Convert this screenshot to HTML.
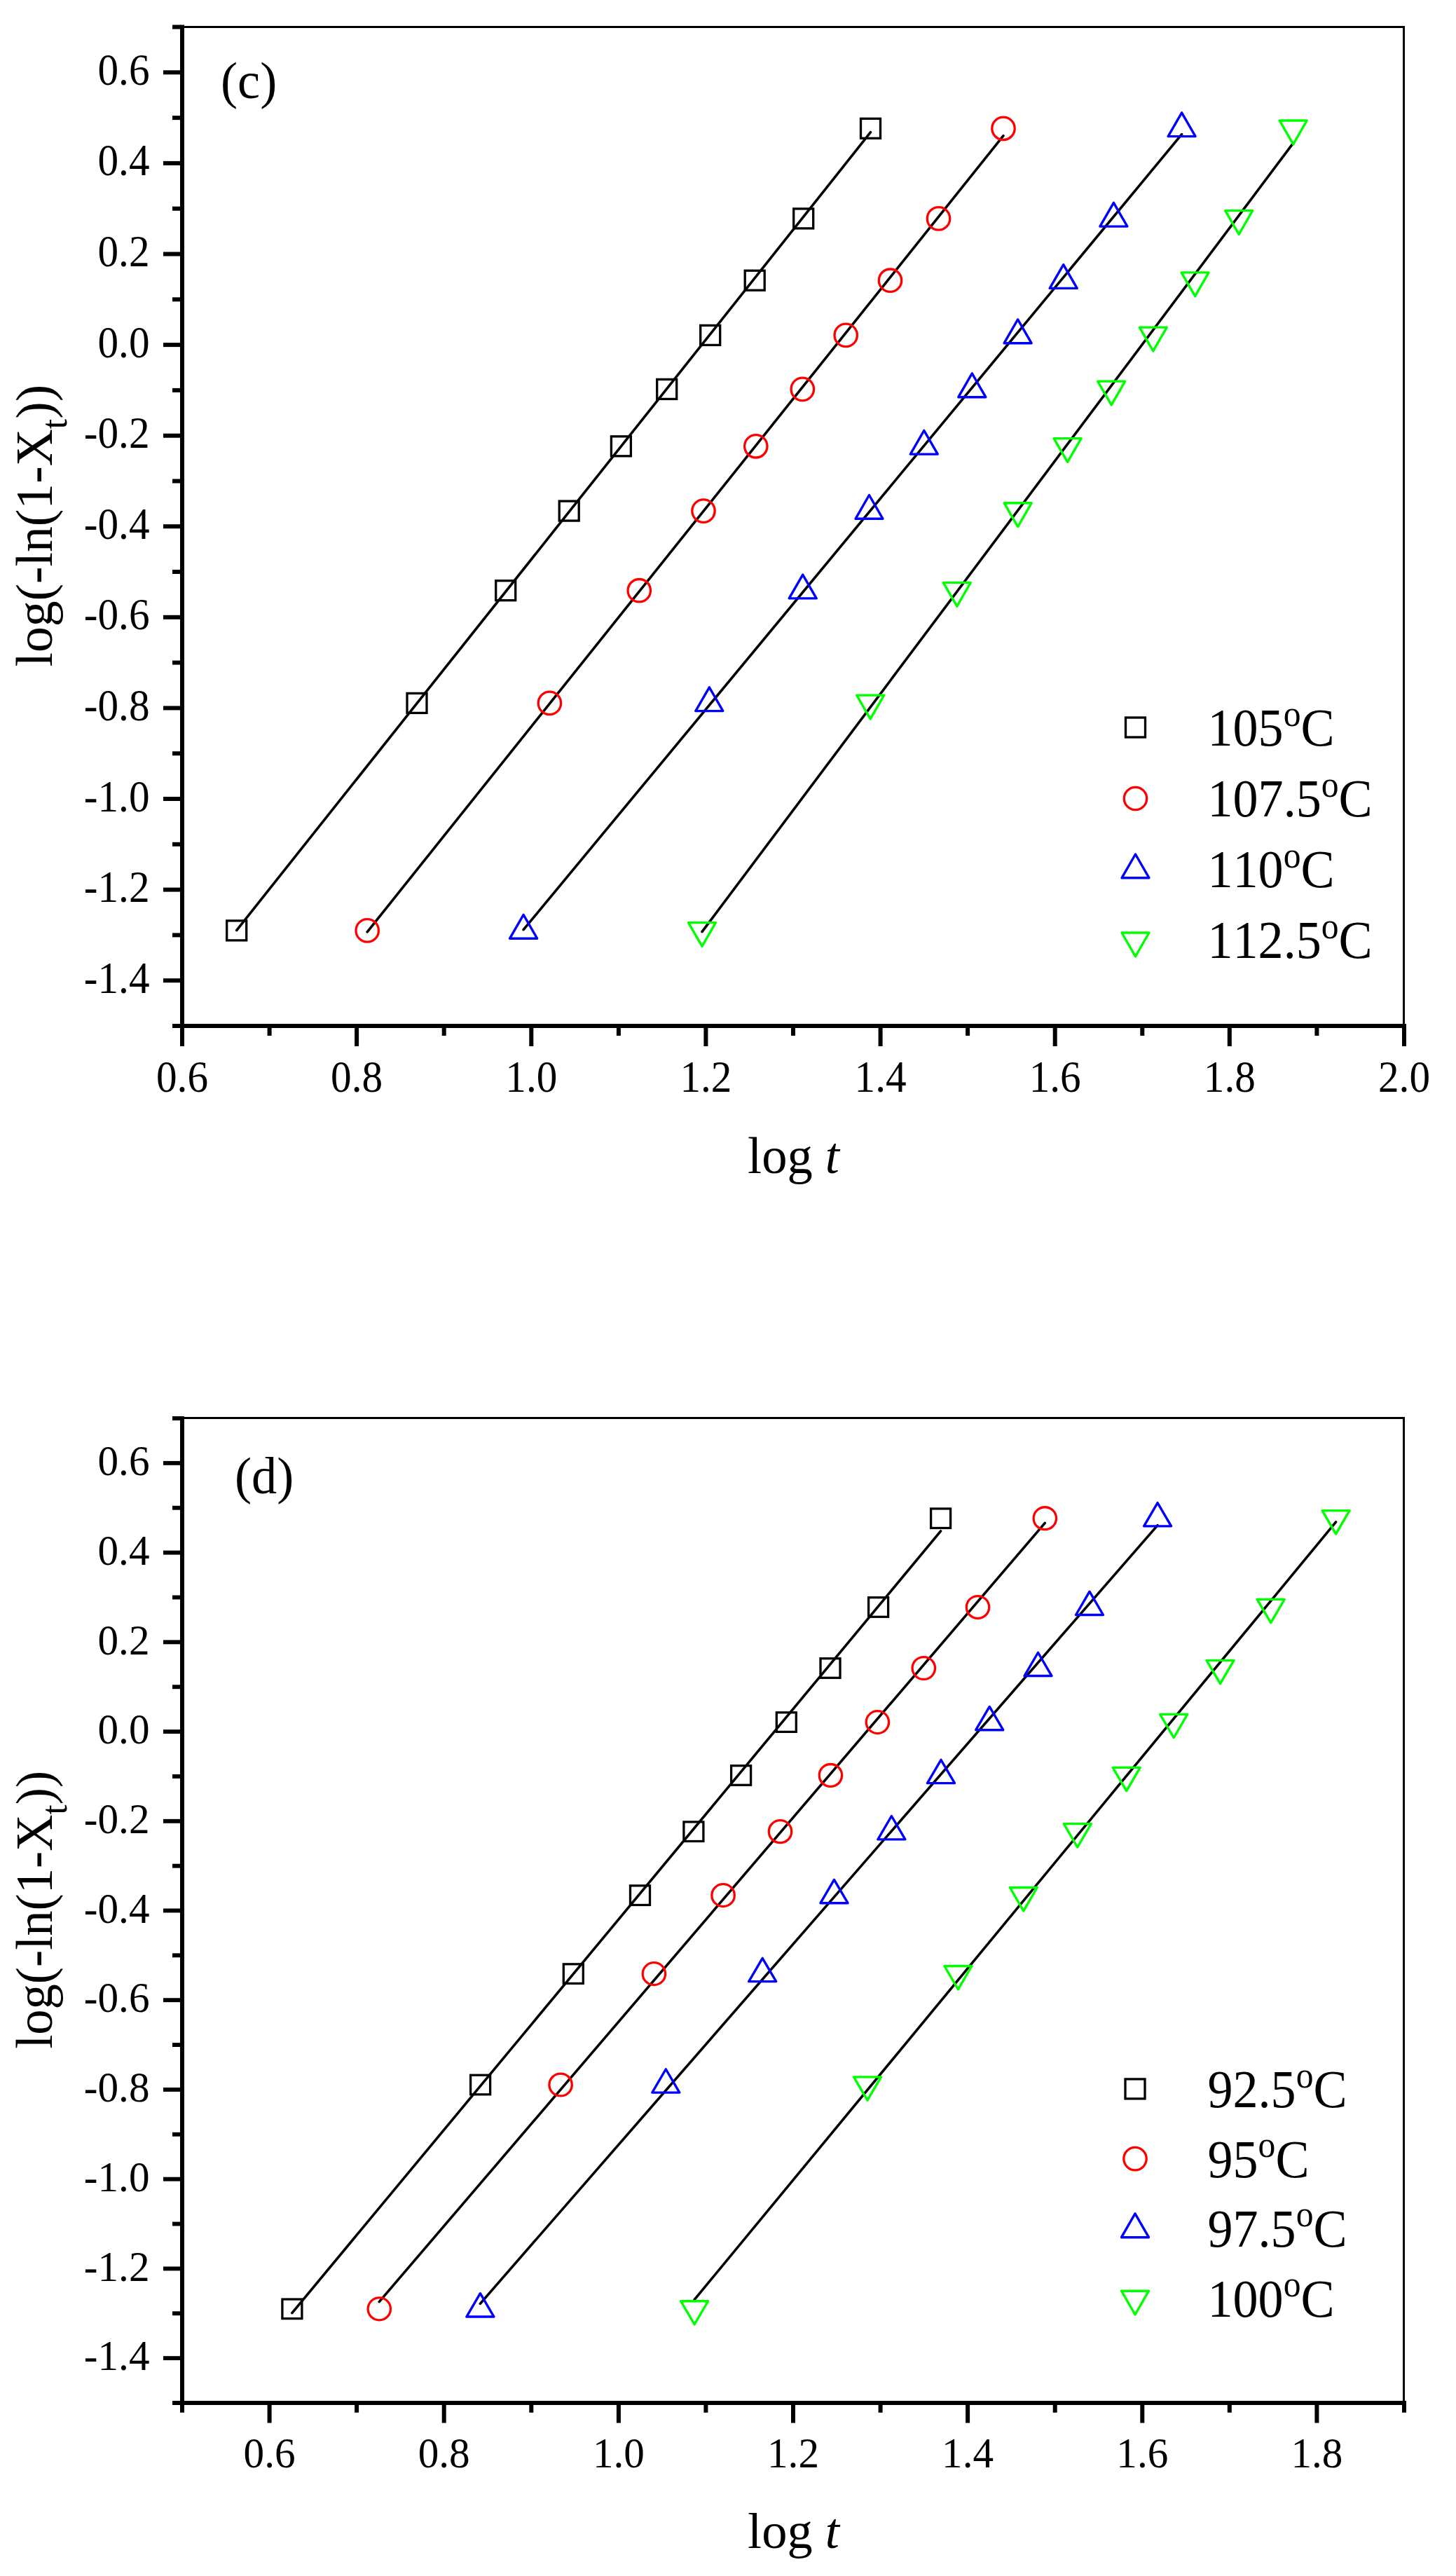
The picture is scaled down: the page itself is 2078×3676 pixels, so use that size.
<!DOCTYPE html>
<html><head><meta charset="utf-8"><title>Avrami plots</title>
<style>
html,body{margin:0;padding:0;background:#fff}
svg{display:block}
text{font-family:"Liberation Serif",serif;fill:#000;font-kerning:none;font-variant-ligatures:none;white-space:pre}
</style></head>
<body>
<svg width="2078" height="3676" viewBox="0 0 2078 3676">
<rect width="2078" height="3676" fill="#fff"/>
<g id="panel-c">
<line x1="337.7" y1="1327.6" x2="1242.5" y2="188.7" stroke="#000" stroke-width="3.6" stroke-linecap="round"/>
<line x1="524.2" y1="1329.8" x2="1432.0" y2="193.6" stroke="#000" stroke-width="3.6" stroke-linecap="round"/>
<line x1="747.1" y1="1326.7" x2="1686.6" y2="191.7" stroke="#000" stroke-width="3.6" stroke-linecap="round"/>
<line x1="1002.0" y1="1329.6" x2="1845.7" y2="204.1" stroke="#000" stroke-width="3.6" stroke-linecap="round"/>
<rect x="323.7" y="1313.9" width="28" height="28" fill="none" stroke="#000" stroke-width="3.3"/>
<rect x="581.0" y="989.4" width="28" height="28" fill="none" stroke="#000" stroke-width="3.3"/>
<rect x="707.7" y="828.7" width="28" height="28" fill="none" stroke="#000" stroke-width="3.3"/>
<rect x="798.2" y="715.1" width="28" height="28" fill="none" stroke="#000" stroke-width="3.3"/>
<rect x="872.4" y="622.8" width="28" height="28" fill="none" stroke="#000" stroke-width="3.3"/>
<rect x="937.7" y="541.4" width="28" height="28" fill="none" stroke="#000" stroke-width="3.3"/>
<rect x="999.7" y="464.4" width="28" height="28" fill="none" stroke="#000" stroke-width="3.3"/>
<rect x="1063.2" y="386.2" width="28" height="28" fill="none" stroke="#000" stroke-width="3.3"/>
<rect x="1132.7" y="297.9" width="28" height="28" fill="none" stroke="#000" stroke-width="3.3"/>
<rect x="1228.5" y="169.3" width="28" height="28" fill="none" stroke="#000" stroke-width="3.3"/>
<circle cx="524.2" cy="1327.9" r="16.2" fill="none" stroke="#f00" stroke-width="3.3"/>
<circle cx="784.4" cy="1003.4" r="16.2" fill="none" stroke="#f00" stroke-width="3.3"/>
<circle cx="912.3" cy="842.7" r="16.2" fill="none" stroke="#f00" stroke-width="3.3"/>
<circle cx="1004.0" cy="729.1" r="16.2" fill="none" stroke="#f00" stroke-width="3.3"/>
<circle cx="1078.8" cy="636.8" r="16.2" fill="none" stroke="#f00" stroke-width="3.3"/>
<circle cx="1145.3" cy="555.4" r="16.2" fill="none" stroke="#f00" stroke-width="3.3"/>
<circle cx="1207.2" cy="478.4" r="16.2" fill="none" stroke="#f00" stroke-width="3.3"/>
<circle cx="1270.5" cy="400.2" r="16.2" fill="none" stroke="#f00" stroke-width="3.3"/>
<circle cx="1339.5" cy="311.9" r="16.2" fill="none" stroke="#f00" stroke-width="3.3"/>
<circle cx="1432.0" cy="183.3" r="16.2" fill="none" stroke="#f00" stroke-width="3.3"/>
<path d="M727.6 1339.2L766.6 1339.2L747.1 1305.4Z" fill="none" stroke="#00f" stroke-width="3.4" stroke-linejoin="round"/>
<path d="M992.8 1014.6L1031.8 1014.6L1012.3 980.8Z" fill="none" stroke="#00f" stroke-width="3.4" stroke-linejoin="round"/>
<path d="M1126.2 853.9L1165.2 853.9L1145.7 820.1Z" fill="none" stroke="#00f" stroke-width="3.4" stroke-linejoin="round"/>
<path d="M1221.0 740.3L1260.0 740.3L1240.5 706.5Z" fill="none" stroke="#00f" stroke-width="3.4" stroke-linejoin="round"/>
<path d="M1299.3 648.1L1338.3 648.1L1318.8 614.3Z" fill="none" stroke="#00f" stroke-width="3.4" stroke-linejoin="round"/>
<path d="M1367.8 566.7L1406.8 566.7L1387.3 532.9Z" fill="none" stroke="#00f" stroke-width="3.4" stroke-linejoin="round"/>
<path d="M1433.1 489.7L1472.1 489.7L1452.6 455.9Z" fill="none" stroke="#00f" stroke-width="3.4" stroke-linejoin="round"/>
<path d="M1498.2 411.4L1537.2 411.4L1517.7 377.6Z" fill="none" stroke="#00f" stroke-width="3.4" stroke-linejoin="round"/>
<path d="M1569.9 323.1L1608.9 323.1L1589.4 289.3Z" fill="none" stroke="#00f" stroke-width="3.4" stroke-linejoin="round"/>
<path d="M1667.1 194.6L1706.1 194.6L1686.6 160.8Z" fill="none" stroke="#00f" stroke-width="3.4" stroke-linejoin="round"/>
<path d="M982.5 1316.6L1021.5 1316.6L1002.0 1350.4Z" fill="none" stroke="#0f0" stroke-width="3.4" stroke-linejoin="round"/>
<path d="M1222.7 992.1L1261.7 992.1L1242.2 1025.9Z" fill="none" stroke="#0f0" stroke-width="3.4" stroke-linejoin="round"/>
<path d="M1346.3 831.4L1385.3 831.4L1365.8 865.2Z" fill="none" stroke="#0f0" stroke-width="3.4" stroke-linejoin="round"/>
<path d="M1433.2 717.8L1472.2 717.8L1452.7 751.6Z" fill="none" stroke="#0f0" stroke-width="3.4" stroke-linejoin="round"/>
<path d="M1504.1 625.6L1543.1 625.6L1523.6 659.4Z" fill="none" stroke="#0f0" stroke-width="3.4" stroke-linejoin="round"/>
<path d="M1566.7 544.1L1605.7 544.1L1586.2 577.9Z" fill="none" stroke="#0f0" stroke-width="3.4" stroke-linejoin="round"/>
<path d="M1626.3 467.1L1665.3 467.1L1645.8 500.9Z" fill="none" stroke="#0f0" stroke-width="3.4" stroke-linejoin="round"/>
<path d="M1686.1 388.9L1725.1 388.9L1705.6 422.7Z" fill="none" stroke="#0f0" stroke-width="3.4" stroke-linejoin="round"/>
<path d="M1748.7 300.6L1787.7 300.6L1768.2 334.4Z" fill="none" stroke="#0f0" stroke-width="3.4" stroke-linejoin="round"/>
<path d="M1826.2 172.0L1865.2 172.0L1845.7 205.8Z" fill="none" stroke="#0f0" stroke-width="3.4" stroke-linejoin="round"/>
<rect x="257" y="37.00" width="1748" height="3.000" fill="#000"/>
<rect x="2002" y="37" width="3" height="1430" fill="#000"/>
<rect x="257" y="35.5" width="6" height="1431.5" fill="#000"/>
<rect x="246" y="1461" width="1761" height="6" fill="#000"/>
<rect x="246" y="35.5" width="12" height="6" fill="#000"/>
<rect x="233" y="100.3" width="25" height="6" fill="#000"/>
<text transform="translate(213.5 120.8) scale(0.94 1)" font-size="63" text-anchor="end">0.6</text>
<rect x="246" y="165.1" width="12" height="6" fill="#000"/>
<rect x="233" y="229.9" width="25" height="6" fill="#000"/>
<text transform="translate(213.5 250.4) scale(0.94 1)" font-size="63" text-anchor="end">0.4</text>
<rect x="246" y="294.7" width="12" height="6" fill="#000"/>
<rect x="233" y="359.5" width="25" height="6" fill="#000"/>
<text transform="translate(213.5 380.0) scale(0.94 1)" font-size="63" text-anchor="end">0.2</text>
<rect x="246" y="424.3" width="12" height="6" fill="#000"/>
<rect x="233" y="489.1" width="25" height="6" fill="#000"/>
<text transform="translate(213.5 509.6) scale(0.94 1)" font-size="63" text-anchor="end">0.0</text>
<rect x="246" y="553.9" width="12" height="6" fill="#000"/>
<rect x="233" y="618.7" width="25" height="6" fill="#000"/>
<text transform="translate(213.5 639.2) scale(0.94 1)" font-size="63" text-anchor="end">-0.2</text>
<rect x="246" y="683.5" width="12" height="6" fill="#000"/>
<rect x="233" y="748.2" width="25" height="6" fill="#000"/>
<text transform="translate(213.5 768.8) scale(0.94 1)" font-size="63" text-anchor="end">-0.4</text>
<rect x="246" y="813.0" width="12" height="6" fill="#000"/>
<rect x="233" y="877.8" width="25" height="6" fill="#000"/>
<text transform="translate(213.5 898.3) scale(0.94 1)" font-size="63" text-anchor="end">-0.6</text>
<rect x="246" y="942.6" width="12" height="6" fill="#000"/>
<rect x="233" y="1007.4" width="25" height="6" fill="#000"/>
<text transform="translate(213.5 1027.9) scale(0.94 1)" font-size="63" text-anchor="end">-0.8</text>
<rect x="246" y="1072.2" width="12" height="6" fill="#000"/>
<rect x="233" y="1137.0" width="25" height="6" fill="#000"/>
<text transform="translate(213.5 1157.5) scale(0.94 1)" font-size="63" text-anchor="end">-1.0</text>
<rect x="246" y="1201.8" width="12" height="6" fill="#000"/>
<rect x="233" y="1266.6" width="25" height="6" fill="#000"/>
<text transform="translate(213.5 1287.1) scale(0.94 1)" font-size="63" text-anchor="end">-1.2</text>
<rect x="246" y="1331.4" width="12" height="6" fill="#000"/>
<rect x="233" y="1396.2" width="25" height="6" fill="#000"/>
<text transform="translate(213.5 1416.7) scale(0.94 1)" font-size="63" text-anchor="end">-1.4</text>
<rect x="246" y="1461.0" width="12" height="6" fill="#000"/>
<rect x="257.0" y="1466" width="6" height="27" fill="#000"/>
<text transform="translate(260.0 1557.5) scale(0.94 1)" font-size="63" text-anchor="middle">0.6</text>
<rect x="506.1" y="1466" width="6" height="27" fill="#000"/>
<text transform="translate(509.1 1557.5) scale(0.94 1)" font-size="63" text-anchor="middle">0.8</text>
<rect x="755.3" y="1466" width="6" height="27" fill="#000"/>
<text transform="translate(758.3 1557.5) scale(0.94 1)" font-size="63" text-anchor="middle">1.0</text>
<rect x="1004.4" y="1466" width="6" height="27" fill="#000"/>
<text transform="translate(1007.4 1557.5) scale(0.94 1)" font-size="63" text-anchor="middle">1.2</text>
<rect x="1253.6" y="1466" width="6" height="27" fill="#000"/>
<text transform="translate(1256.6 1557.5) scale(0.94 1)" font-size="63" text-anchor="middle">1.4</text>
<rect x="1502.7" y="1466" width="6" height="27" fill="#000"/>
<text transform="translate(1505.7 1557.5) scale(0.94 1)" font-size="63" text-anchor="middle">1.6</text>
<rect x="1751.8" y="1466" width="6" height="27" fill="#000"/>
<text transform="translate(1754.8 1557.5) scale(0.94 1)" font-size="63" text-anchor="middle">1.8</text>
<rect x="2001.0" y="1466" width="6" height="27" fill="#000"/>
<text transform="translate(2004.0 1557.5) scale(0.94 1)" font-size="63" text-anchor="middle">2.0</text>
<rect x="381.6" y="1466" width="6" height="12" fill="#000"/>
<rect x="630.7" y="1466" width="6" height="12" fill="#000"/>
<rect x="879.9" y="1466" width="6" height="12" fill="#000"/>
<rect x="1129.0" y="1466" width="6" height="12" fill="#000"/>
<rect x="1378.1" y="1466" width="6" height="12" fill="#000"/>
<rect x="1627.3" y="1466" width="6" height="12" fill="#000"/>
<rect x="1876.4" y="1466" width="6" height="12" fill="#000"/>
<text transform="translate(1132.5 1674) scale(0.98 1)" font-size="74" text-anchor="middle">log <tspan font-style="italic">t</tspan></text>
<text transform="translate(73.8 951.5) rotate(-90) scale(0.995 1)" font-size="74">log(-ln(1-X<tspan font-size="52" dy="21">t</tspan><tspan dy="-21">))</tspan></text>
<text transform="translate(315 139.5) scale(0.97 1)" font-size="74.5">(c)</text>
<rect x="1606.5" y="1024.0" width="28" height="28" fill="none" stroke="#000" stroke-width="3.3"/>
<text transform="translate(1723.5 1064.0) scale(0.955 1)" font-size="75.5">105<tspan font-size="52" dy="-28.5">o</tspan><tspan dy="28.5">C</tspan></text>
<circle cx="1620.5" cy="1139.5" r="16.2" fill="none" stroke="#f00" stroke-width="3.3"/>
<text transform="translate(1723.5 1165.3) scale(0.955 1)" font-size="75.5">107.5<tspan font-size="52" dy="-28.5">o</tspan><tspan dy="28.5">C</tspan></text>
<path d="M1601.0 1252.8L1640.0 1252.8L1620.5 1219.0Z" fill="none" stroke="#00f" stroke-width="3.4" stroke-linejoin="round"/>
<text transform="translate(1723.5 1266.0) scale(0.955 1)" font-size="75.5">110<tspan font-size="52" dy="-28.5">o</tspan><tspan dy="28.5">C</tspan></text>
<path d="M1601.0 1331.0L1640.0 1331.0L1620.5 1364.8Z" fill="none" stroke="#0f0" stroke-width="3.4" stroke-linejoin="round"/>
<text transform="translate(1723.5 1367.0) scale(0.955 1)" font-size="75.5">112.5<tspan font-size="52" dy="-28.5">o</tspan><tspan dy="28.5">C</tspan></text>
</g>
<g id="panel-d">
<g transform="translate(0 1986.054) scale(1 0.98562)">
<line x1="416.9" y1="1333.7" x2="1342.6" y2="201.7" stroke="#000" stroke-width="3.6" stroke-linecap="round"/>
<line x1="541.3" y1="1317.5" x2="1491.3" y2="190.0" stroke="#000" stroke-width="3.6" stroke-linecap="round"/>
<line x1="685.4" y1="1320.3" x2="1652.1" y2="193.4" stroke="#000" stroke-width="3.6" stroke-linecap="round"/>
<line x1="991.1" y1="1314.5" x2="1906.6" y2="188.6" stroke="#000" stroke-width="3.6" stroke-linecap="round"/>
<rect x="402.9" y="1313.9" width="28" height="28" fill="none" stroke="#000" stroke-width="3.3"/>
<rect x="671.6" y="989.4" width="28" height="28" fill="none" stroke="#000" stroke-width="3.3"/>
<rect x="804.3" y="828.7" width="28" height="28" fill="none" stroke="#000" stroke-width="3.3"/>
<rect x="899.5" y="715.1" width="28" height="28" fill="none" stroke="#000" stroke-width="3.3"/>
<rect x="975.9" y="622.8" width="28" height="28" fill="none" stroke="#000" stroke-width="3.3"/>
<rect x="1043.6" y="541.4" width="28" height="28" fill="none" stroke="#000" stroke-width="3.3"/>
<rect x="1108.3" y="464.4" width="28" height="28" fill="none" stroke="#000" stroke-width="3.3"/>
<rect x="1171.0" y="386.2" width="28" height="28" fill="none" stroke="#000" stroke-width="3.3"/>
<rect x="1239.6" y="297.9" width="28" height="28" fill="none" stroke="#000" stroke-width="3.3"/>
<rect x="1328.6" y="169.3" width="28" height="28" fill="none" stroke="#000" stroke-width="3.3"/>
<circle cx="541.3" cy="1327.9" r="16.2" fill="none" stroke="#f00" stroke-width="3.3"/>
<circle cx="800.1" cy="1003.4" r="16.2" fill="none" stroke="#f00" stroke-width="3.3"/>
<circle cx="933.4" cy="842.7" r="16.2" fill="none" stroke="#f00" stroke-width="3.3"/>
<circle cx="1032.1" cy="729.1" r="16.2" fill="none" stroke="#f00" stroke-width="3.3"/>
<circle cx="1113.5" cy="636.8" r="16.2" fill="none" stroke="#f00" stroke-width="3.3"/>
<circle cx="1185.4" cy="555.4" r="16.2" fill="none" stroke="#f00" stroke-width="3.3"/>
<circle cx="1252.4" cy="478.4" r="16.2" fill="none" stroke="#f00" stroke-width="3.3"/>
<circle cx="1318.3" cy="400.2" r="16.2" fill="none" stroke="#f00" stroke-width="3.3"/>
<circle cx="1395.5" cy="311.9" r="16.2" fill="none" stroke="#f00" stroke-width="3.3"/>
<circle cx="1491.3" cy="183.3" r="16.2" fill="none" stroke="#f00" stroke-width="3.3"/>
<path d="M665.9 1339.2L704.9 1339.2L685.4 1305.4Z" fill="none" stroke="#00f" stroke-width="3.4" stroke-linejoin="round"/>
<path d="M930.8 1014.6L969.8 1014.6L950.3 980.8Z" fill="none" stroke="#00f" stroke-width="3.4" stroke-linejoin="round"/>
<path d="M1068.7 853.9L1107.7 853.9L1088.2 820.1Z" fill="none" stroke="#00f" stroke-width="3.4" stroke-linejoin="round"/>
<path d="M1171.0 740.3L1210.0 740.3L1190.5 706.5Z" fill="none" stroke="#00f" stroke-width="3.4" stroke-linejoin="round"/>
<path d="M1252.9 648.1L1291.9 648.1L1272.4 614.3Z" fill="none" stroke="#00f" stroke-width="3.4" stroke-linejoin="round"/>
<path d="M1323.5 566.7L1362.5 566.7L1343.0 532.9Z" fill="none" stroke="#00f" stroke-width="3.4" stroke-linejoin="round"/>
<path d="M1392.7 489.7L1431.7 489.7L1412.2 455.9Z" fill="none" stroke="#00f" stroke-width="3.4" stroke-linejoin="round"/>
<path d="M1462.0 411.4L1501.0 411.4L1481.5 377.6Z" fill="none" stroke="#00f" stroke-width="3.4" stroke-linejoin="round"/>
<path d="M1535.5 323.1L1574.5 323.1L1555.0 289.3Z" fill="none" stroke="#00f" stroke-width="3.4" stroke-linejoin="round"/>
<path d="M1632.6 194.6L1671.6 194.6L1652.1 160.8Z" fill="none" stroke="#00f" stroke-width="3.4" stroke-linejoin="round"/>
<path d="M971.6 1316.6L1010.6 1316.6L991.1 1350.4Z" fill="none" stroke="#0f0" stroke-width="3.4" stroke-linejoin="round"/>
<path d="M1218.5 992.1L1257.5 992.1L1238.0 1025.9Z" fill="none" stroke="#0f0" stroke-width="3.4" stroke-linejoin="round"/>
<path d="M1347.9 831.4L1386.9 831.4L1367.4 865.2Z" fill="none" stroke="#0f0" stroke-width="3.4" stroke-linejoin="round"/>
<path d="M1441.3 717.8L1480.3 717.8L1460.8 751.6Z" fill="none" stroke="#0f0" stroke-width="3.4" stroke-linejoin="round"/>
<path d="M1518.3 625.6L1557.3 625.6L1537.8 659.4Z" fill="none" stroke="#0f0" stroke-width="3.4" stroke-linejoin="round"/>
<path d="M1588.2 544.1L1627.2 544.1L1607.7 577.9Z" fill="none" stroke="#0f0" stroke-width="3.4" stroke-linejoin="round"/>
<path d="M1655.7 467.1L1694.7 467.1L1675.2 500.9Z" fill="none" stroke="#0f0" stroke-width="3.4" stroke-linejoin="round"/>
<path d="M1722.0 388.9L1761.0 388.9L1741.5 422.7Z" fill="none" stroke="#0f0" stroke-width="3.4" stroke-linejoin="round"/>
<path d="M1794.2 300.6L1833.2 300.6L1813.7 334.4Z" fill="none" stroke="#0f0" stroke-width="3.4" stroke-linejoin="round"/>
<path d="M1887.1 172.0L1926.1 172.0L1906.6 205.8Z" fill="none" stroke="#0f0" stroke-width="3.4" stroke-linejoin="round"/>
<rect x="257" y="36.47" width="1748" height="3.044" fill="#000"/>
<rect x="2002" y="37" width="3" height="1430" fill="#000"/>
<rect x="257" y="35.5" width="6" height="1431.5" fill="#000"/>
<rect x="246" y="1461" width="1761" height="6" fill="#000"/>
<rect x="246" y="35.5" width="12" height="6" fill="#000"/>
<rect x="233" y="100.3" width="25" height="6" fill="#000"/>
<text transform="translate(213.5 120.8) scale(0.94 1)" font-size="63" text-anchor="end">0.6</text>
<rect x="246" y="165.1" width="12" height="6" fill="#000"/>
<rect x="233" y="229.9" width="25" height="6" fill="#000"/>
<text transform="translate(213.5 250.4) scale(0.94 1)" font-size="63" text-anchor="end">0.4</text>
<rect x="246" y="294.7" width="12" height="6" fill="#000"/>
<rect x="233" y="359.5" width="25" height="6" fill="#000"/>
<text transform="translate(213.5 380.0) scale(0.94 1)" font-size="63" text-anchor="end">0.2</text>
<rect x="246" y="424.3" width="12" height="6" fill="#000"/>
<rect x="233" y="489.1" width="25" height="6" fill="#000"/>
<text transform="translate(213.5 509.6) scale(0.94 1)" font-size="63" text-anchor="end">0.0</text>
<rect x="246" y="553.9" width="12" height="6" fill="#000"/>
<rect x="233" y="618.7" width="25" height="6" fill="#000"/>
<text transform="translate(213.5 639.2) scale(0.94 1)" font-size="63" text-anchor="end">-0.2</text>
<rect x="246" y="683.5" width="12" height="6" fill="#000"/>
<rect x="233" y="748.2" width="25" height="6" fill="#000"/>
<text transform="translate(213.5 768.8) scale(0.94 1)" font-size="63" text-anchor="end">-0.4</text>
<rect x="246" y="813.0" width="12" height="6" fill="#000"/>
<rect x="233" y="877.8" width="25" height="6" fill="#000"/>
<text transform="translate(213.5 898.3) scale(0.94 1)" font-size="63" text-anchor="end">-0.6</text>
<rect x="246" y="942.6" width="12" height="6" fill="#000"/>
<rect x="233" y="1007.4" width="25" height="6" fill="#000"/>
<text transform="translate(213.5 1027.9) scale(0.94 1)" font-size="63" text-anchor="end">-0.8</text>
<rect x="246" y="1072.2" width="12" height="6" fill="#000"/>
<rect x="233" y="1137.0" width="25" height="6" fill="#000"/>
<text transform="translate(213.5 1157.5) scale(0.94 1)" font-size="63" text-anchor="end">-1.0</text>
<rect x="246" y="1201.8" width="12" height="6" fill="#000"/>
<rect x="233" y="1266.6" width="25" height="6" fill="#000"/>
<text transform="translate(213.5 1287.1) scale(0.94 1)" font-size="63" text-anchor="end">-1.2</text>
<rect x="246" y="1331.4" width="12" height="6" fill="#000"/>
<rect x="233" y="1396.2" width="25" height="6" fill="#000"/>
<text transform="translate(213.5 1416.7) scale(0.94 1)" font-size="63" text-anchor="end">-1.4</text>
<rect x="246" y="1461.0" width="12" height="6" fill="#000"/>
<rect x="381.6" y="1466" width="6" height="27" fill="#000"/>
<text transform="translate(384.6 1557.5) scale(0.94 1)" font-size="63" text-anchor="middle">0.6</text>
<rect x="630.7" y="1466" width="6" height="27" fill="#000"/>
<text transform="translate(633.7 1557.5) scale(0.94 1)" font-size="63" text-anchor="middle">0.8</text>
<rect x="879.9" y="1466" width="6" height="27" fill="#000"/>
<text transform="translate(882.9 1557.5) scale(0.94 1)" font-size="63" text-anchor="middle">1.0</text>
<rect x="1129.0" y="1466" width="6" height="27" fill="#000"/>
<text transform="translate(1132.0 1557.5) scale(0.94 1)" font-size="63" text-anchor="middle">1.2</text>
<rect x="1378.1" y="1466" width="6" height="27" fill="#000"/>
<text transform="translate(1381.1 1557.5) scale(0.94 1)" font-size="63" text-anchor="middle">1.4</text>
<rect x="1627.3" y="1466" width="6" height="27" fill="#000"/>
<text transform="translate(1630.3 1557.5) scale(0.94 1)" font-size="63" text-anchor="middle">1.6</text>
<rect x="1876.4" y="1466" width="6" height="27" fill="#000"/>
<text transform="translate(1879.4 1557.5) scale(0.94 1)" font-size="63" text-anchor="middle">1.8</text>
<rect x="257.0" y="1466" width="6" height="12" fill="#000"/>
<rect x="506.1" y="1466" width="6" height="12" fill="#000"/>
<rect x="755.3" y="1466" width="6" height="12" fill="#000"/>
<rect x="1004.4" y="1466" width="6" height="12" fill="#000"/>
<rect x="1253.6" y="1466" width="6" height="12" fill="#000"/>
<rect x="1502.7" y="1466" width="6" height="12" fill="#000"/>
<rect x="1751.8" y="1466" width="6" height="12" fill="#000"/>
<rect x="2001.0" y="1466" width="6" height="12" fill="#000"/>
<text transform="translate(1132.5 1674) scale(0.98 1)" font-size="74" text-anchor="middle">log <tspan font-style="italic">t</tspan></text>
<text transform="translate(73.8 951.5) rotate(-90) scale(0.995 1)" font-size="74">log(-ln(1-X<tspan font-size="52" dy="21">t</tspan><tspan dy="-21">))</tspan></text>
</g>
<text transform="translate(335 2131) scale(0.97 1)" font-size="74.5">(d)</text>
<rect x="1606.0" y="2966.9" width="28" height="28" fill="none" stroke="#000" stroke-width="3.3"/>
<text transform="translate(1723.5 3007.0) scale(0.955 1)" font-size="75.5">92.5<tspan font-size="52" dy="-28.5">o</tspan><tspan dy="28.5">C</tspan></text>
<circle cx="1620.0" cy="3080.6" r="16.2" fill="none" stroke="#f00" stroke-width="3.3"/>
<text transform="translate(1723.5 3106.5) scale(0.955 1)" font-size="75.5">95<tspan font-size="52" dy="-28.5">o</tspan><tspan dy="28.5">C</tspan></text>
<path d="M1600.5 3192.7L1639.5 3192.7L1620.0 3158.9Z" fill="none" stroke="#00f" stroke-width="3.4" stroke-linejoin="round"/>
<text transform="translate(1723.5 3205.6) scale(0.955 1)" font-size="75.5">97.5<tspan font-size="52" dy="-28.5">o</tspan><tspan dy="28.5">C</tspan></text>
<path d="M1600.5 3269.2L1639.5 3269.2L1620.0 3303.0Z" fill="none" stroke="#0f0" stroke-width="3.4" stroke-linejoin="round"/>
<text transform="translate(1723.5 3305.8) scale(0.955 1)" font-size="75.5">100<tspan font-size="52" dy="-28.5">o</tspan><tspan dy="28.5">C</tspan></text>
</g>
</svg>
</body></html>
